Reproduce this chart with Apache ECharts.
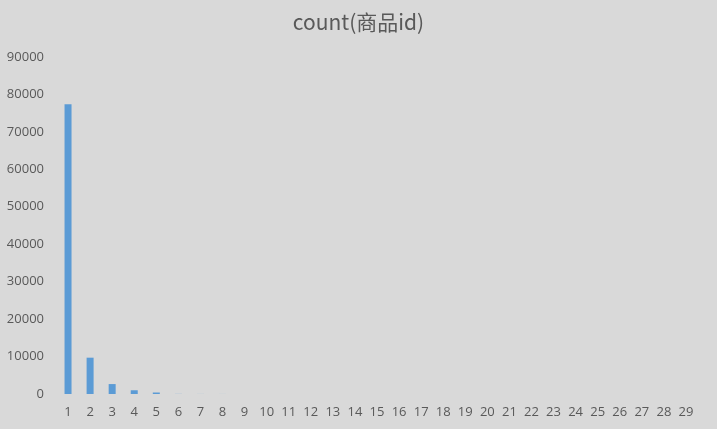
<!DOCTYPE html>
<html>
<head>
<meta charset="utf-8">
<script src="https://cdn.jsdelivr.net/npm/echarts@6/dist/echarts.min.js"></script>
<style>
html,body{margin:0;padding:0;background:#d9d9d9;}
#c{width:717px;height:429px;}
</style>
</head>
<body>
<div id="c"></div>
<script>
const categories = ['1','2','3','4','5','6','7','8','9','10','11','12','13','14','15','16','17','18','19','20','21','22','23','24','25','26','27','28','29'];
const counts = [77400, 9700, 2650, 1000, 400, 30, 15, 10, 8, 6, 5, 4, 3, 3, 2, 2, 2, 1, 1, 1, 1, 1, 1, 1, 1, 1, 1, 1, 1];
const titleText = 'count(商品id)';

const chart = echarts.init(document.getElementById('c'));
chart.setOption({
  backgroundColor: '#d9d9d9',
  animation: false,
  title: {
    text: titleText,
    left: 'center',
    top: 7,
    textStyle: {color: '#595959', fontSize: 21, fontWeight: 'normal', fontFamily: 'Noto Sans CJK SC, sans-serif'}
  },
  grid: {left: 57, right: 20, top: 57, bottom: 35},
  xAxis: {
    type: 'category',
    data: categories,
    axisLine: {show: false},
    axisTick: {show: false},
    axisLabel: {color: '#595959', fontSize: 13, margin: 12, interval: 0, fontFamily: 'Open Sans, sans-serif'}
  },
  yAxis: {
    type: 'value',
    min: 0, max: 90000, interval: 10000,
    splitLine: {show: false},
    axisLine: {show: false},
    axisTick: {show: false},
    axisLabel: {color: '#595959', fontSize: 13, margin: 13, fontFamily: 'Open Sans, sans-serif', formatter: v => String(v)}
  },
  series: [{
    type: 'bar',
    data: counts,
    barWidth: 7,
    itemStyle: {color: '#5b9bd5'}
  }]
});
</script>
</body>
</html>
